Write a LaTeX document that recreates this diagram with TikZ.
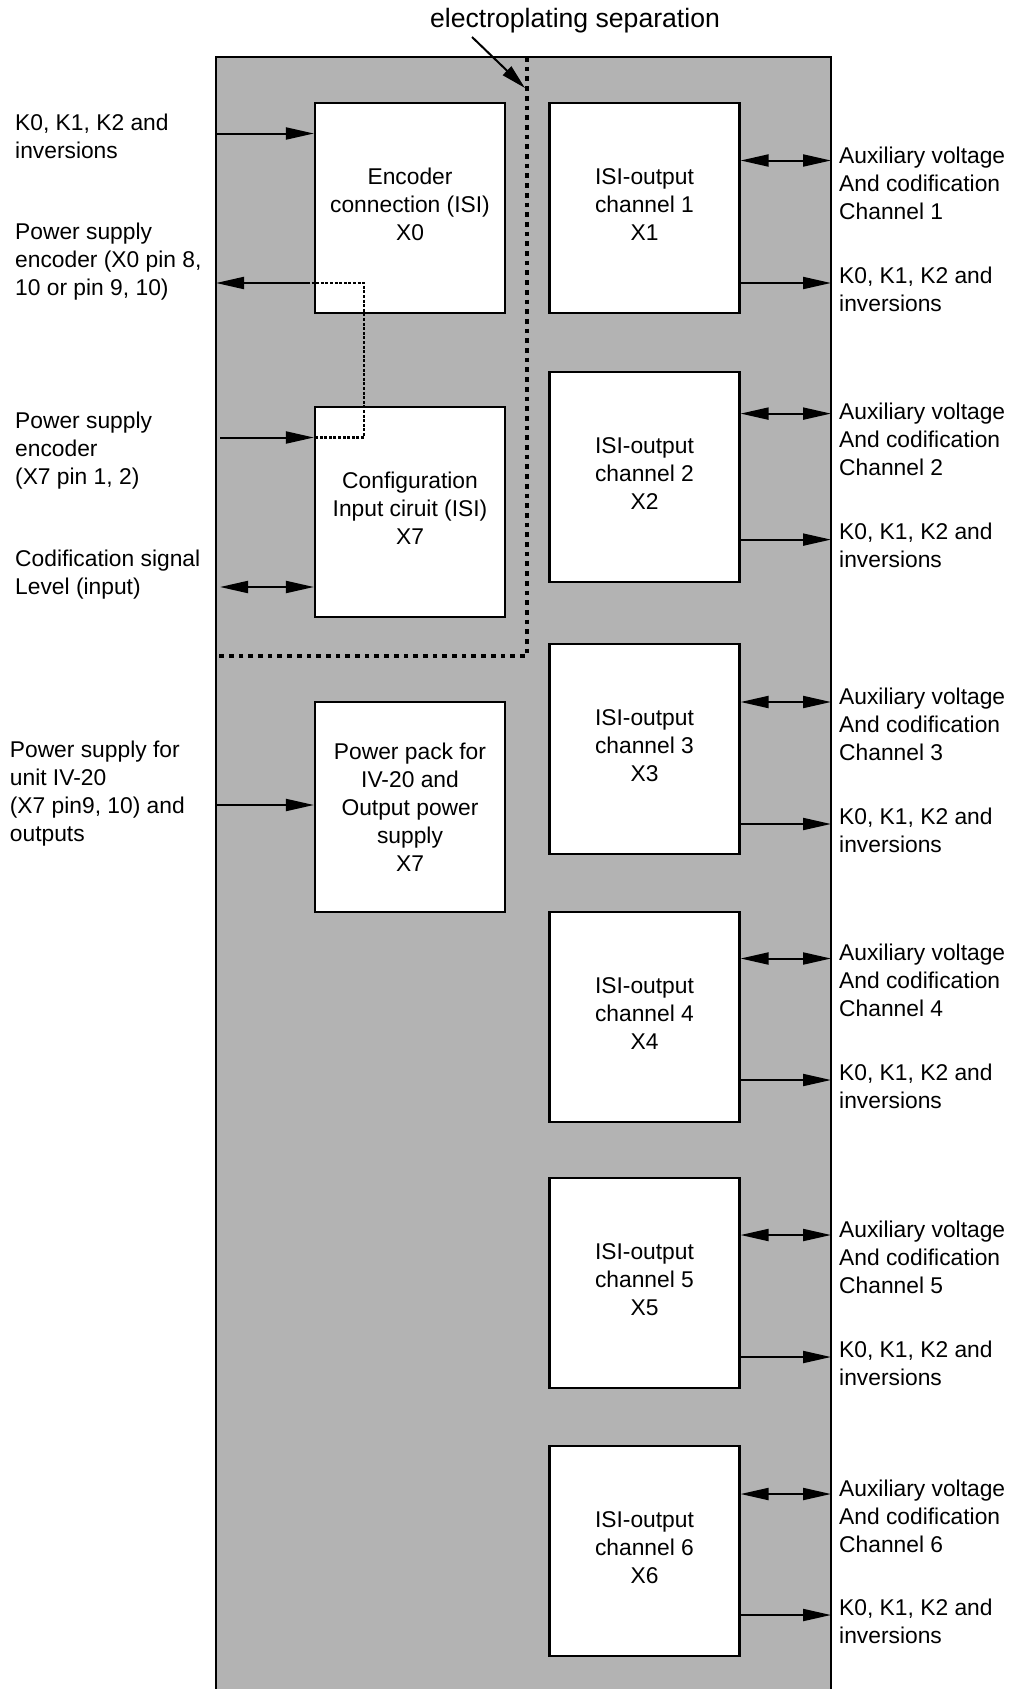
\documentclass[tikz,border=0pt]{standalone}
\usepackage{fontspec}
\setmainfont{Liberation Sans}
\usetikzlibrary{arrows.meta}
\definecolor{panel}{RGB}{179,179,179}
\newcommand\diafont{\fontsize{22.8}{28}\selectfont}
\newcommand\diatopfont{\fontsize{26.6}{32}\selectfont}
\newcommand\liftup{\rule[-7pt]{0pt}{7pt}}
\begin{document}
\begin{tikzpicture}[x=1pt,y=-1pt,
  box/.style={draw, fill=white, line width=2.2pt, minimum width=190pt, minimum height=210pt, align=center, inner sep=0pt, font=\diafont},
  lbl/.style={align=left, anchor=west, inner sep=0pt, font=\diafont},
  arr/.style={line width=2pt, -{Triangle[length=28pt,width=12pt]}},
  darr/.style={line width=2pt, {Triangle[length=28pt,width=12pt]}-{Triangle[length=28pt,width=12pt]}},
  eparr/.style={line width=2pt, -{Triangle[length=25pt,width=12pt]}},
  sepline/.style={line width=4.7pt, dash pattern=on 4.7pt off 5pt},
  linkline/.style={line width=2.8pt, dash pattern=on 3pt off 1.6pt}]
\useasboundingbox (0,0) rectangle (1011,1689);
% panel
\fill[panel] (216,57) rectangle (831,1689);
\draw[line width=2.2pt] (216,1689) -- (216,57) -- (831,57) -- (831,1689);
% separation
\draw[sepline] (527,57) -- (527,656) -- (216,656);
\node[font=\diatopfont, inner sep=0pt] (ep) at (575,20.5) {electroplating separation};
\coordinate (eps) at (472,37);
\coordinate (ept) at (525,88);
\draw[eparr] (eps) -- (ept);
% left boxes
\node[box] (enc) at (410,208) {Encoder\\connection (ISI)\\X0\liftup};
\node[box] (cfg) at (410,512) {Configuration\\Input ciruit (ISI)\\X7\liftup};
\node[box] (pwr) at (410,807) {Power pack for\\IV-20 and\\Output power\\supply\\X7};
% left connectors
\coordinate (l1) at (216,133.5);
\draw[arr] (l1) -- (enc.west |- l1);
\coordinate (l2) at (216,283);
\coordinate (l2s) at (307,283);
\draw[arr] (l2s) -- (l2);
\coordinate (l3) at (220,437.5);
\draw[arr] (l3) -- (cfg.west |- l3);
\coordinate (l4) at (220,587);
\draw[darr] (l4) -- (cfg.west |- l4);
\coordinate (l5) at (216,805);
\draw[arr] (l5) -- (pwr.west |- l5);
\coordinate (lk) at (364,283);
\draw[linkline] (l2s) -- (lk) |- (cfg.west |- l3);
% left labels
\node[lbl] (t1) at (15,136.5) {K0, K1, K2 and\\inversions};
\node[lbl] (t2) at (15,262) {Power supply\\encoder (X0 pin 8,\\10 or pin 9, 10)};
\node[lbl] (t3) at (15,450.5) {Power supply\\encoder\\(X7 pin 1, 2)};
\node[lbl] (t4) at (15,575) {Codification signal\\Level (input)};
\node[lbl] (t5) at (9.7,793.7) {Power supply for\\unit IV-20\\(X7 pin9, 10) and\\outputs};
% channels
\foreach \i/\cy/\da/\sa/\la/\ka in {1/208/160.5/283/183/289, 2/477/413.6/539.6/439/545.6, 3/749/702/824/724/830, 4/1017/958.5/1080/980/1086, 5/1283/1235/1357/1257/1363, 6/1551/1494/1615/1516/1621}{
  \node[box] (ch\i) at (644.5,\cy) {ISI-output\\channel \i\\X\i\liftup};
  \coordinate (ra\i) at (831,\da);
  \coordinate (rs\i) at (831,\sa);
  \draw[darr] (ch\i.east |- ra\i) -- (ra\i);
  \draw[arr] (ch\i.east |- rs\i) -- (rs\i);
  \node[lbl] (aux\i) at (839,\la) {Auxiliary voltage\\And codification\\Channel \i};
  \node[lbl] (k\i) at (839,\ka) {K0, K1, K2 and\\inversions};
}
\end{tikzpicture}
\end{document}
